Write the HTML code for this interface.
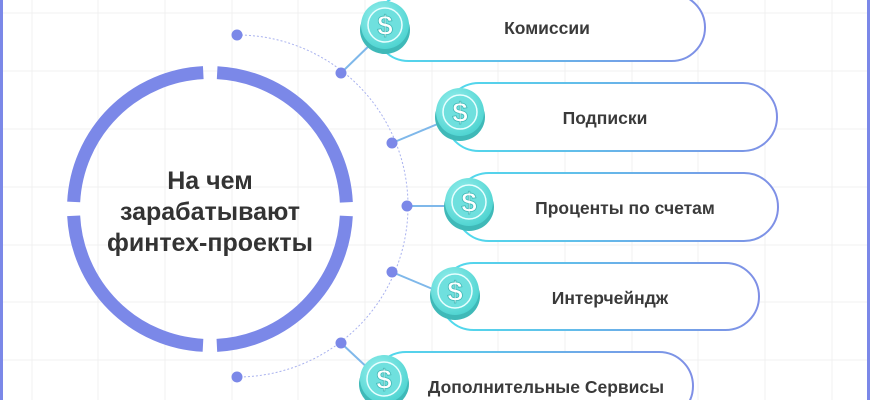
<!DOCTYPE html>
<html><head><meta charset="utf-8"><style>
html,body{margin:0;padding:0;background:#fff;}
svg{display:block;}
text{font-family:"Liberation Sans","DejaVu Sans",sans-serif;}
</style></head><body>
<svg width="870" height="400" viewBox="0 0 870 400" xmlns="http://www.w3.org/2000/svg">
<defs>
<linearGradient id="pg" x1="0" y1="0" x2="1" y2="0">
<stop offset="0" stop-color="#4fdcec"/><stop offset="1" stop-color="#7f8fe6"/>
</linearGradient>
<radialGradient id="cf" cx="0.4" cy="0.35" r="0.7">
<stop offset="0" stop-color="#9af0ee"/><stop offset="1" stop-color="#4cd3d0"/>
</radialGradient>
<g id="coin">
<ellipse cx="0" cy="5" rx="25" ry="24" fill="#3fb9b8"/>
<circle cx="0" cy="0" r="24" fill="url(#cf)"/>
<circle cx="0" cy="0" r="17" fill="#6fe0de" stroke="#e8ffff" stroke-width="1.5"/>
<text x="0" y="10" text-anchor="middle" font-size="28" font-weight="bold" fill="#fff" stroke="#40b8b6" stroke-width="0.8">$</text>
</g>
</defs>
<rect width="870" height="400" fill="#fff"/>
<g stroke="#f1f1f1" stroke-width="1">
<line x1="32" y1="0" x2="32" y2="400"/><line x1="98" y1="0" x2="98" y2="400"/><line x1="165" y1="0" x2="165" y2="400"/><line x1="232" y1="0" x2="232" y2="400"/><line x1="298" y1="0" x2="298" y2="400"/><line x1="365" y1="0" x2="365" y2="400"/><line x1="432" y1="0" x2="432" y2="400"/><line x1="498" y1="0" x2="498" y2="400"/><line x1="565" y1="0" x2="565" y2="400"/><line x1="632" y1="0" x2="632" y2="400"/><line x1="698" y1="0" x2="698" y2="400"/><line x1="765" y1="0" x2="765" y2="400"/><line x1="832" y1="0" x2="832" y2="400"/>
<line x1="0" y1="13" x2="870" y2="13"/><line x1="0" y1="71" x2="870" y2="71"/><line x1="0" y1="129" x2="870" y2="129"/><line x1="0" y1="187" x2="870" y2="187"/><line x1="0" y1="245" x2="870" y2="245"/><line x1="0" y1="302" x2="870" y2="302"/><line x1="0" y1="360" x2="870" y2="360"/>
</g>
<rect x="0" y="0" width="3" height="400" fill="#7b88e8"/>
<rect x="867" y="0" width="3" height="400" fill="#7b88e8"/>
<circle cx="210" cy="209" r="136.5" fill="none" stroke="#7b88e8" stroke-width="13" stroke-dasharray="200.4 14" stroke-dashoffset="-7"/>
<g text-anchor="middle" font-size="25" font-weight="bold" fill="#333">
<text x="210" y="189">На чем</text>
<text x="210" y="220">зарабатывают</text>
<text x="210" y="251">финтех-проекты</text>
</g>
<path d="M237 35 A171 171 0 0 1 237 377" fill="none" stroke="#a9b2ef" stroke-width="1" stroke-dasharray="2 2"/>
<g stroke="#7fb8ea" stroke-width="2">
<line x1="341" y1="73" x2="375" y2="40"/>
<line x1="392" y1="143" x2="440" y2="123"/>
<line x1="407" y1="206" x2="450" y2="206"/>
<line x1="392" y1="272" x2="435" y2="290"/>
<line x1="341" y1="343" x2="372" y2="372"/>
</g>
<g fill="#7b88e8">
<circle cx="237" cy="35" r="5.5"/><circle cx="341" cy="73" r="5.5"/><circle cx="392" cy="143" r="5.5"/><circle cx="407" cy="206" r="5.5"/><circle cx="392" cy="272" r="5.5"/><circle cx="341" cy="343" r="5.5"/><circle cx="237" cy="377" r="5.5"/>
</g>
<g fill="#fff" stroke="url(#pg)" stroke-width="2">
<rect x="375" y="-6" width="330" height="67" rx="33.5"/>
<rect x="445" y="83" width="332" height="68" rx="34"/>
<rect x="455" y="173" width="323" height="68" rx="34"/>
<rect x="440" y="263" width="319" height="67" rx="33.5"/>
<rect x="372" y="352" width="321" height="68" rx="34"/>
</g>
<use href="#coin" x="385" y="25"/>
<use href="#coin" x="460" y="112"/>
<use href="#coin" x="469" y="202"/>
<use href="#coin" x="455" y="291"/>
<use href="#coin" x="384" y="379"/>
<g font-size="17.5" font-weight="bold" fill="#3a3a3a" text-anchor="middle">
<text x="547" y="34">Комиссии</text>
<text x="605" y="124">Подписки</text>
<text x="625" y="214">Проценты по счетам</text>
<text x="610" y="304">Интерчейндж</text>
<text x="546" y="393">Дополнительные Сервисы</text>
</g>
</svg>
</body></html>
